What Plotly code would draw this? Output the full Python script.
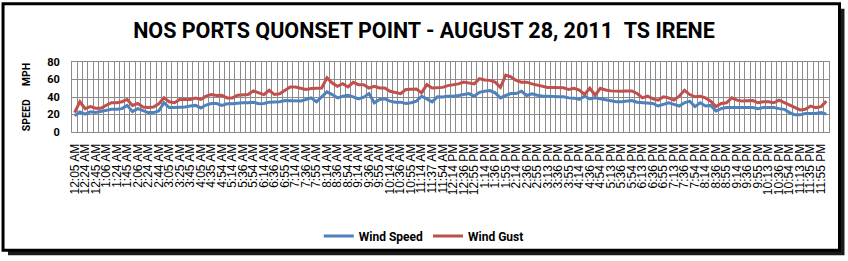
import plotly.graph_objects as go

time_labels = ["12:05 AM","12:24 AM","12:45 AM","1:06 AM","1:24 AM","1:45 AM","2:06 AM","2:24 AM","2:44 AM",
    "3:05 AM","3:25 AM","3:45 AM","4:05 AM","4:35 AM","4:54 AM","5:14 AM","5:36 AM","5:54 AM","6:14 AM",
    "6:36 AM","6:55 AM","7:14 AM","7:36 AM","7:55 AM","8:14 AM","8:36 AM","8:54 AM","9:14 AM","9:36 AM",
    "9:55 AM","10:14 AM","10:36 AM","10:55 AM","11:14 AM","11:37 AM","11:54 AM","12:14 PM","12:36 PM",
    "12:55 PM","1:14 PM","1:36 PM","1:55 PM","2:14 PM","2:36 PM","2:55 PM","3:13 PM","3:36 PM","3:55 PM",
    "4:14 PM","4:36 PM","4:54 PM","5:13 PM","5:36 PM","5:54 PM","6:13 PM","6:36 PM","6:55 PM","7:13 PM",
    "7:36 PM","7:54 PM","8:14 PM","8:36 PM","8:55 PM","9:14 PM","9:36 PM","9:55 PM","10:13 PM","10:36 PM",
    "10:54 PM","11:13 PM","11:35 PM","11:55 PM"]

wind_speed = [18.4, 23, 20.4, 23, 22.2, 23.3, 24, 25.9, 25.9, 26.7, 30.4, 23.3, 26.7, 24, 22.2, 22.2, 24, 33.4,
    27.9, 27.9, 27.9, 28.6, 29.7, 30.4, 27.5, 30.8, 32.6, 32.6, 30.4, 32.3, 32.3, 33, 33.4, 33.4, 34, 32.3,
    32.6, 34.1, 34.1, 34.5, 36, 36, 36, 35.3, 37.2, 39, 34.5, 40.2, 45.8, 42.8, 39, 40.9, 42, 40.2, 37.9,
    39.8, 43.9, 33.4, 37.2, 37.9, 35.3, 34.1, 34.1, 32.6, 33.4, 35.3, 40.9, 37.9, 34.5, 40.2, 40, 41, 40.9,
    41.7, 42.8, 43.9, 40.9, 45.4, 46.6, 47.3, 44.7, 39, 41.7, 43.9, 43.9, 46.6, 41.7, 43.6, 42, 40.9, 40.9,
    40.2, 40.2, 40.2, 39, 38.7, 37.2, 40.9, 37.9, 39, 37.9, 36, 34.9, 34.5, 34.5, 34.9, 36, 34, 33.4, 32.6,
    32.6, 29.7, 31.5, 33.4, 31.5, 29.7, 33.4, 35.3, 29, 33.4, 29.7, 30.4, 24, 26.7, 27.9, 27.9, 28.6, 27.9,
    27.9, 27.9, 26.7, 27.9, 27.9, 27.9, 26.7, 25.9, 22.2, 19.6, 19.6, 21.1, 21.1, 21.1, 22.2, 20.4]

wind_gust = [22.2, 34.6, 26.7, 29, 27.1, 27.1, 30.4, 33.4, 33.4, 34.6, 37.2, 30.4, 32.6, 28.6, 27.9, 28.6, 32.3,
    39, 34.6, 33.4, 37.2, 37.2, 37.2, 38.7, 37.2, 41, 42.8, 41.7, 42, 39, 39, 42, 42.8, 42.8, 47, 44.7, 42.8,
    47.7, 42.8, 43.6, 47.7, 51.5, 51.5, 49.6, 48.5, 49.6, 50.3, 50.3, 62, 56, 52.2, 55.2, 51.5, 56.8, 54.1,
    54.1, 50.3, 52.2, 50.3, 50.3, 46.6, 45.4, 43.9, 48.5, 49.2, 49.2, 44.7, 54.1, 50.3, 50.3, 51, 53, 54,
    55, 57, 56, 55, 61, 59.5, 59, 57, 51, 65, 63, 59, 57, 57, 55, 53.5, 52, 51, 51, 50.5, 50.5, 48.5, 50, 48,
    43, 50, 42, 50, 48, 47, 46.5, 46.5, 47, 47, 44, 39, 40.9, 37.9, 36.4, 40.2, 39, 36.4, 40.9, 47.7, 42.8,
    40.2, 40.9, 39, 35.3, 29, 32.6, 33.4, 39, 36.4, 35.3, 35.3, 36, 33.4, 34.5, 34.5, 33.4, 36.4, 33.4, 30.4,
    27.9, 25.2, 25.9, 29.7, 27.9, 29, 35.3]

x_idx = list(range(len(wind_speed)))
label_pos = x_idx[::2]

BLUE = "#4F81BD"
RED = "#C0504D"
GRID = "#8C8C8C"

fig = go.Figure()
fig.add_trace(go.Scatter(x=x_idx, y=wind_speed, mode="lines", name="Wind Speed",
                         line=dict(color=BLUE, width=3)))
fig.add_trace(go.Scatter(x=x_idx, y=wind_gust, mode="lines", name="Wind Gust",
                         line=dict(color=RED, width=3)))

L, R, T, B = 72, 18.5, 62, 128
W, H = 848, 261
pw = W - L - R
ph = H - T - B

def px(x):
    return (x - L) / pw

def py(y):
    return (H - B - y) / ph

shapes = [
    dict(type="rect", xref="paper", yref="paper", x0=px(8), x1=px(845), y0=py(8), y1=py(258),
         line=dict(width=0), fillcolor="#1a1a1a", layer="below"),
    dict(type="rect", xref="paper", yref="paper", x0=px(3), x1=px(840), y0=py(3), y1=py(253),
         line=dict(width=3, color="#000000"), fillcolor="#FFFFFF", layer="below"),
]

FONT = "Roboto, Liberation Sans, sans-serif"

fig.update_layout(
    width=W, height=H,
    margin=dict(l=L, r=R, t=T, b=B, pad=0),
    paper_bgcolor="#FFFFFF", plot_bgcolor="rgba(0,0,0,0)",
    title=dict(text="NOS PORTS QUONSET POINT - AUGUST 28, 2011\u00a0\u00a0TS IRENE",
               xref="container", yref="container",
               x=424 / W, xanchor="center", y=1 - 30 / H, yanchor="middle",
               font=dict(family=FONT, size=21.5, color="#000000", weight="bold")),
    showlegend=True,
    legend=dict(orientation="h", x=px(424), xanchor="center", y=py(236), yanchor="middle",
                font=dict(family=FONT, size=12, color="#000000", weight="bold"),
                bgcolor="rgba(0,0,0,0)", itemwidth=30),
    shapes=shapes,
    xaxis=dict(range=[-0.5, len(wind_speed) - 0.5], tickmode="array", tickvals=label_pos,
               ticktext=time_labels, tickangle=-90, showgrid=False, zeroline=False,
               showline=True, linecolor=GRID, linewidth=1, mirror=True,
               ticks="outside", ticklen=6, tickcolor="rgba(0,0,0,0)",
               tickfont=dict(family="Liberation Sans, Arial, sans-serif", size=12, color="#000000"),
               minor=dict(tickvals=[i - 0.5 for i in range(len(wind_speed) + 1)], showgrid=True,
                          gridcolor=GRID, gridwidth=1, ticks="")),
    yaxis=dict(range=[0, 80], dtick=20, tick0=0, showgrid=True, gridcolor=GRID, gridwidth=1,
               zeroline=False, showline=True, linecolor=GRID, linewidth=1, mirror=True,
               ticks="outside", ticklen=9, tickcolor="rgba(0,0,0,0)",
               tickfont=dict(family=FONT, size=11, color="#000000", weight="bold"),
               title=dict(text="SPEED\u00a0\u00a0\u00a0\u00a0\u00a0MPH", standoff=14,
                          font=dict(family=FONT, size=10.5, color="#000000", weight="bold"))),
)

fig.write_html("out.html")
